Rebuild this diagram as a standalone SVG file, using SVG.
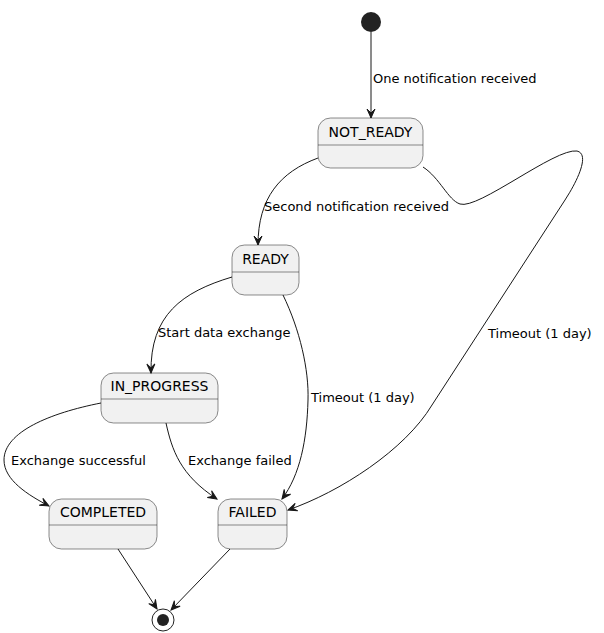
<svg xmlns="http://www.w3.org/2000/svg" width="604" height="633" viewBox="0 0 604 633">
<defs>
<marker id="arr" markerUnits="userSpaceOnUse" markerWidth="12" markerHeight="10" refX="9" refY="4" orient="auto" overflow="visible">
<path d="M0,0 L9,4 L0,8 L4,4 Z" fill="#181818" stroke="#181818" stroke-width="1"/>
</marker>
</defs>
<style>
.st{fill:#F1F1F1;stroke:#181818;stroke-width:0.5}
.dv{stroke:#181818;stroke-width:0.5}
.nm{font-family:"DejaVu Sans","Liberation Sans",sans-serif;font-size:14px;fill:#000;text-anchor:middle}
.lb{font-family:"DejaVu Sans","Liberation Sans",sans-serif;font-size:13px;fill:#000}
.cn{fill:none;stroke:#181818;stroke-width:1;marker-end:url(#arr)}
</style>
<rect width="604" height="633" fill="#FFFFFF"/>
<g id="start"><circle cx="371" cy="22" r="10" fill="#222222"/></g>
<g id="NOT_READY">
<rect class="st" x="318" y="118" width="105" height="50" rx="12.5"/>
<line class="dv" x1="318" y1="145" x2="423" y2="145"/>
<text class="nm" x="370.5" y="137">NOT_READY</text>
</g>
<g id="READY">
<rect class="st" x="232" y="245" width="67" height="50" rx="12.5"/>
<line class="dv" x1="232" y1="272" x2="299" y2="272"/>
<text class="nm" x="265.5" y="264">READY</text>
</g>
<g id="IN_PROGRESS">
<rect class="st" x="101" y="373" width="117" height="50" rx="12.5"/>
<line class="dv" x1="101" y1="399" x2="218" y2="399"/>
<text class="nm" x="159.5" y="391">IN_PROGRESS</text>
</g>
<g id="COMPLETED">
<rect class="st" x="49" y="499" width="108" height="50" rx="12.5"/>
<line class="dv" x1="49" y1="525" x2="157" y2="525"/>
<text class="nm" x="103" y="517">COMPLETED</text>
</g>
<g id="FAILED">
<rect class="st" x="218" y="499" width="69" height="50" rx="12.5"/>
<line class="dv" x1="218" y1="525" x2="287" y2="525"/>
<text class="nm" x="252.5" y="517">FAILED</text>
</g>
<g id="end">
<circle cx="163" cy="620" r="11" fill="none" stroke="#222222" stroke-width="1"/>
<circle cx="163" cy="620" r="6" fill="#222222"/>
</g>
<g id="connectors">
<path class="cn" d="M371,32 L371,118"/>
<text class="lb" x="373" y="83">One notification received</text>
<path class="cn" d="M318,158 C280,172 258,198 258,245"/>
<text class="lb" x="264" y="211">Second notification received</text>
<path class="cn" d="M423,167 C440,178 448,200 460,204 C478,210 555,148 577,151 C590,154 578,180 565,200 L432,405 C405,450 340,492 288,510"/>
<text class="lb" x="488" y="338">Timeout (1 day)</text>
<path class="cn" d="M232,277 C182,292 150,315 151,373"/>
<text class="lb" x="158" y="337">Start data exchange</text>
<path class="cn" d="M283,295 C300,330 309,370 308,400 C307,440 300,475 282,499"/>
<text class="lb" x="311" y="402">Timeout (1 day)</text>
<path class="cn" d="M101,403 C50,413 4,432 4,460 C4,480 28,495 49,506"/>
<text class="lb" x="11" y="465">Exchange successful</text>
<path class="cn" d="M166,423 C172,450 180,475 217,499"/>
<text class="lb" x="188" y="465">Exchange failed</text>
<path class="cn" d="M118,549 L157,609"/>
<path class="cn" d="M230,549 L171,610"/>
</g>
</svg>
